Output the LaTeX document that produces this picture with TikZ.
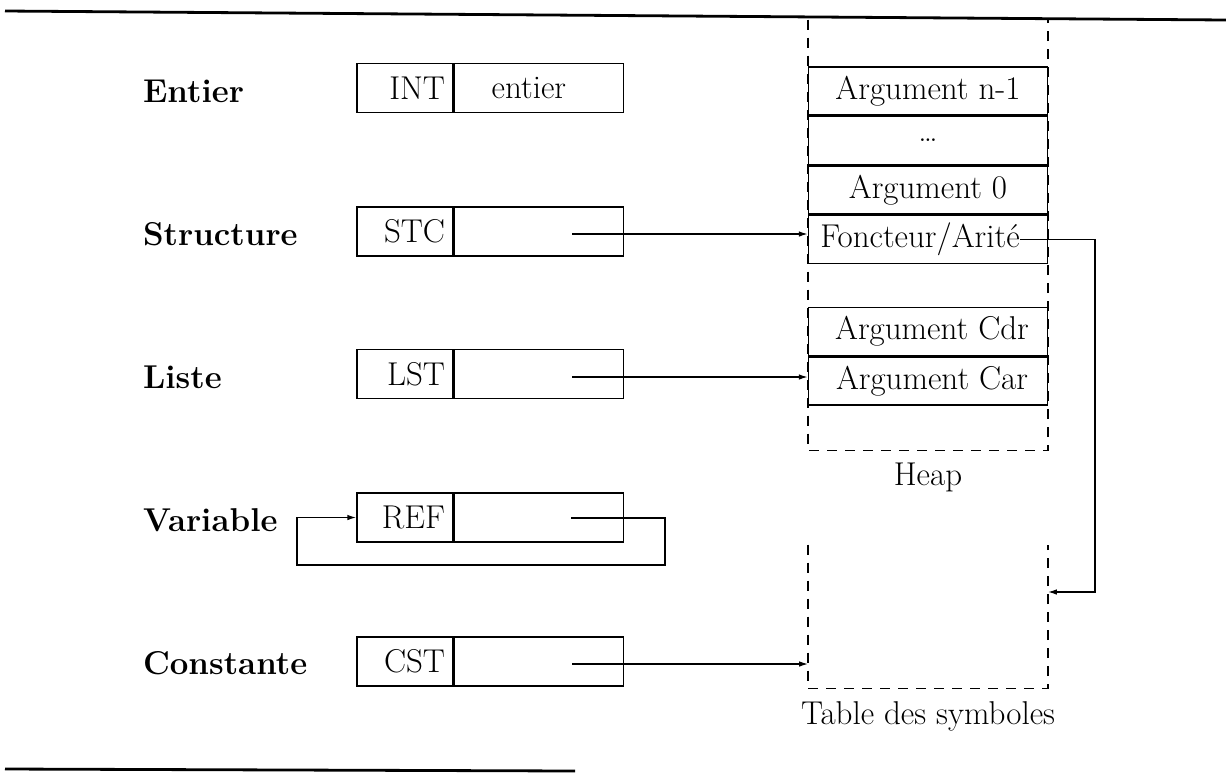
\documentclass[tikz,border=0pt]{standalone}
\usetikzlibrary{arrows.meta}
\begin{document}
\begin{tikzpicture}[x=0.5pt,y=-0.5pt,
  every node/.style={font=\fontsize{16.5}{19}\selectfont},
  lab/.style={anchor=west,font=\fontsize{16.5}{19}\selectfont\bfseries},
  tagcell/.style={draw,line width=0.7pt,minimum height=24.5pt,text width=40pt,inner xsep=4pt,inner ysep=0pt,align=right},
  valcell/.style={draw,line width=0.7pt,minimum width=84.5pt,minimum height=24.5pt,inner sep=0pt,anchor=west},
  heapcell/.style={draw,line width=0.7pt,minimum width=119.5pt,minimum height=24pt,inner sep=0pt},
  frame/.style={minimum width=119.5pt,inner sep=0pt},
  dashedline/.style={line width=0.7pt,dash pattern=on 5pt off 4pt},
  arr/.style={line width=0.7pt,-{Latex[length=4.5pt,width=2.8pt]}},
  rule/.style={line width=1.4pt}]
\useasboundingbox (0,0) rectangle (1226,778);

% rules
\coordinate (r1a) at (5,11); \coordinate (r1b) at (1226,20);
\draw[rule] (r1a) -- (r1b);
\coordinate (r2a) at (5,769); \coordinate (r2b) at (575,771);
\draw[rule] (r2a) -- (r2b);

% labels
\node[lab] (lent) at (136,91) {Entier};
\node[lab] (lstc) at (136,234) {Structure};
\node[lab] (llst) at (136,377) {Liste};
\node[lab] (lref) at (136,520) {Variable};
\node[lab] (lcst) at (136,663) {Constante};

% tagged boxes
\node[tagcell] (intt) at (405,88) {INT};
\node[valcell] (intv) at (intt.east) {\hspace*{-10pt}entier};
\node[tagcell] (stct) at (405,231.5) {STC};
\node[valcell] (stcv) at (stct.east) {};
\node[tagcell] (lstt) at (405,374) {LST};
\node[valcell] (lstv) at (lstt.east) {};
\node[tagcell] (reft) at (405,517.5) {REF};
\node[valcell] (refv) at (reft.east) {};
\node[tagcell] (cstt) at (405,661.5) {CST};
\node[valcell] (cstv) at (cstt.east) {};

% heap
\node[frame,minimum height=215pt] (heap) at (928,235) {};
\draw[dashedline] (heap.north west) -- (heap.south west) -- (heap.south east) -- (heap.north east);
\node[heapcell] (h1) at (928,91) {Argument n-1};
\node[heapcell,anchor=north] (h2) at (h1.south) {\dots};
\node[heapcell,anchor=north] (h3) at (h2.south) {Argument 0};
\node[heapcell,anchor=north] (h4) at (h3.south) {};
\node[inner xsep=0pt] (fatext) at ([xshift=-4pt]h4.center) {Foncteur/Arité};
\node[heapcell] (cdr) at (928,331.5) {\hspace*{4pt}Argument Cdr};
\node[heapcell,anchor=north] (car) at (cdr.south) {\hspace*{4pt}Argument Car};
\node (heaplab) at (928,477) {Heap};

% table des symboles
\node[frame,minimum height=71.5pt] (table) at (928,616.5) {};
\draw[dashedline] (table.north west) -- (table.south west) -- (table.south east) -- (table.north east);
\node (tablab) at (928,716) {Table des symboles};

% pointers
\coordinate (stcp) at (572,234);
\draw[arr] (stcp) -- (stcp -| h4.west);
\coordinate (lstp) at (572,377);
\draw[arr] (lstp) -- (lstp -| car.west);
\coordinate (cstp) at (572,664);
\draw[arr] (cstp) -- (cstp -| table.west);
\coordinate (refp) at (571,518);
\coordinate (refr) at (665,565);
\coordinate (refl) at (297,565);
\draw[arr] (refp) -| (refr) -- (refl) |- (reft.west);
\coordinate (fturn) at (1095,592);
\draw[arr] (fatext.east) -| (fturn) -- (fturn -| table.east);
\end{tikzpicture}
\end{document}
